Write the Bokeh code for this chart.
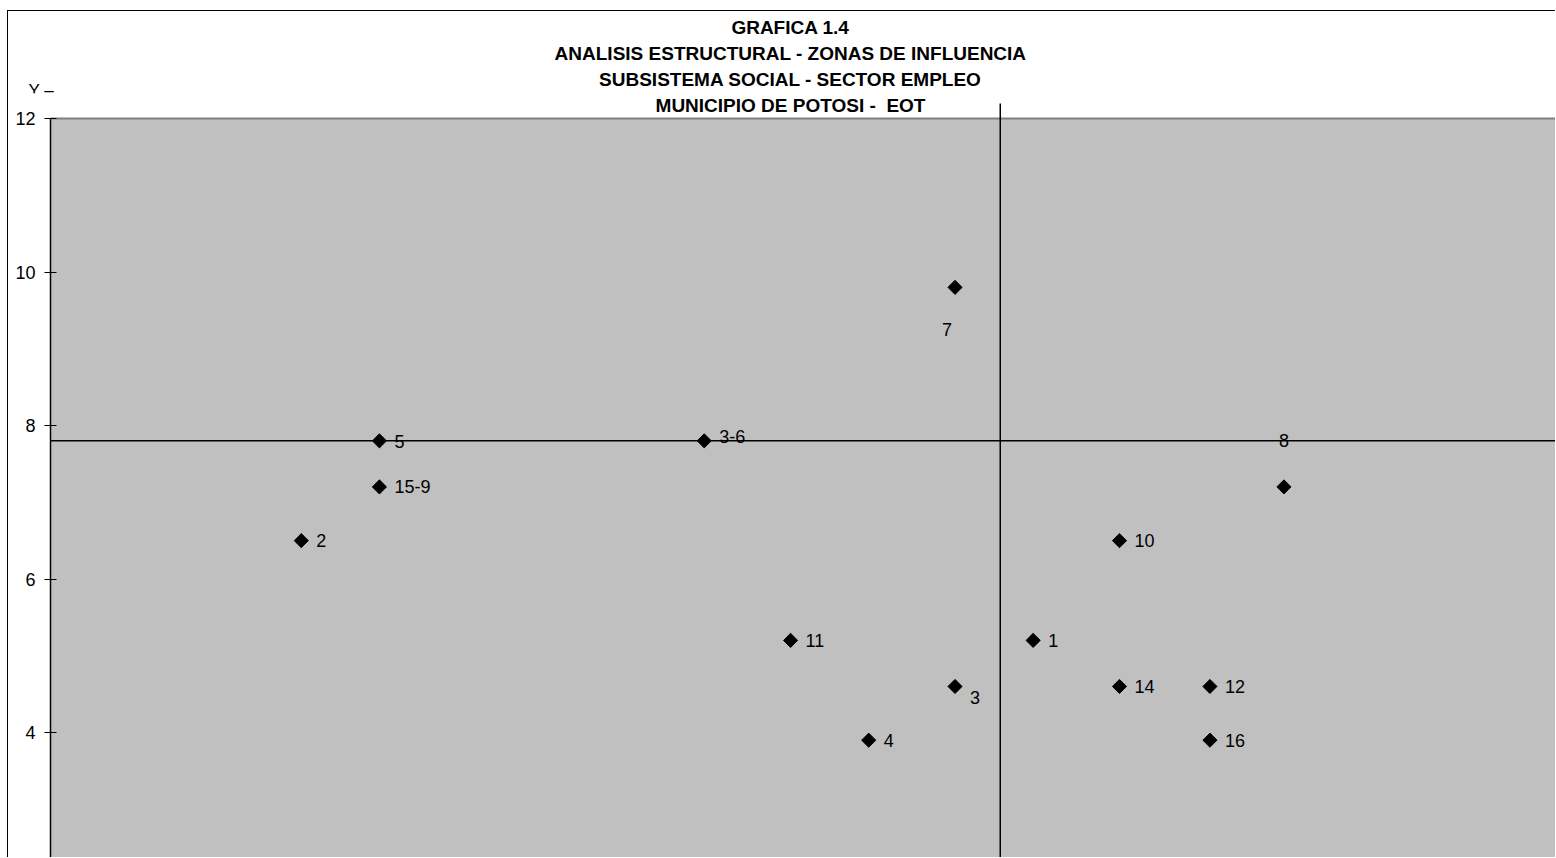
import numpy as np
from bokeh.plotting import figure
from bokeh.models import FixedTicker, ColumnDataSource, Range1d, BoxAnnotation
from bokeh.core.properties import value
from bokeh.embed import file_html
from bokeh.resources import INLINE

# ---------------- data ----------------
title_lines = [
    "GRAFICA 1.4",
    "ANALISIS ESTRUCTURAL - ZONAS DE INFLUENCIA",
    "SUBSISTEMA SOCIAL - SECTOR EMPLEO",
    "MUNICIPIO DE POTOSI -\u00a0 EOT",
]
axis_title = "Y –"
point_labels = ["2", "5", "15-9", "3-6", "11", "4", "3", "7", "1", "10", "14", "12", "16", "8"]
x_values = [3.05, 4.0, 4.0, 7.95, 9.0, 9.95, 11.0, 11.0, 11.95, 13.0, 13.0, 14.1, 14.1, 15.0]
y_values = [6.5, 7.8, 7.2, 7.8, 5.2, 3.9, 4.6, 9.8, 5.2, 6.5, 4.6, 4.6, 3.9, 7.2]
y_ticks = [4, 6, 8, 10, 12]
y_axis_max = 12
x_cross = 11.55
y_cross = 7.8

# ---------------- placement / style ----------------
label_dx = [15, 15, 15, 15, 15, 15, 15, -8, 15, 15, 15, 15, 15, 0]
label_dy = [0, 1, 0, -4, 0, 0, 11, 42, 0, 0, 0, 0, 0, -46]
label_align = ["left"] * len(point_labels)
label_align[point_labels.index("7")] = "center"
label_align[point_labels.index("8")] = "center"

FONT = "Liberation Sans"
PX_X = 82.23   # pixels per x unit
PX_Y = 76.75   # pixels per y unit
X0, X1 = -42 / PX_X, 1506 / PX_X
Y0, Y1 = y_axis_max - 740 / PX_Y, y_axis_max + 107 / PX_Y

def ydata(page_y):
    return y_axis_max + (118 - page_y) / PX_Y

title_x = 740 / PX_X
title_y = [ydata(27.0), ydata(53.0), ydata(79.0), ydata(104.5)]

p = figure(
    width=1548, height=847,
    x_range=Range1d(X0, X1), y_range=Range1d(Y0, Y1),
    x_axis_location=None,
    output_backend="svg", toolbar_location=None,
    min_border_left=0, min_border_top=0, min_border_right=0, min_border_bottom=0,
    background_fill_color="white", border_fill_color="white",
)
p.styles = {"border-left": "1px solid black", "border-top": "1px solid black",
            "margin-top": "10px", "margin-left": "7px"}
p.outline_line_color = None
p.xgrid.visible = False
p.ygrid.visible = False

# grey plot area
p.add_layout(BoxAnnotation(left=0, top=y_axis_max, fill_color="#c0c0c0", fill_alpha=1.0,
                           line_color=None, level="underlay"))

ax = p.yaxis[0]
ax.fixed_location = 0
ax.ticker = FixedTicker(ticks=y_ticks)
ax.major_tick_in = 6
ax.major_tick_out = 6
ax.minor_tick_line_color = None
ax.axis_line_color = None
ax.major_tick_line_color = "black"
ax.major_label_text_font = FONT
ax.major_label_text_font_size = "18px"
ax.major_label_text_color = "black"
ax.major_label_standoff = 9

# axis lines: value axis, top edge, crossing lines
p.segment(x0=[0], y0=[Y0], x1=[0], y1=[y_axis_max], line_color="black", line_width=1.5)
p.segment(x0=[0], y0=[y_axis_max], x1=[X1], y1=[y_axis_max], line_color="#808080", line_width=2)
p.segment(x0=[0], y0=[y_cross], x1=[X1], y1=[y_cross], line_color="black", line_width=1.5)
p.segment(x0=[x_cross], y0=[Y0], x1=[x_cross], y1=[ydata(103)], line_color="black", line_width=1.5)

src = ColumnDataSource(dict(x=x_values, y=y_values, label=point_labels,
                            dx=label_dx, dy=label_dy, align=label_align))
p.scatter(x="x", y="y", source=src, marker="square", angle=np.pi / 4, size=10,
          fill_color="black", line_color="black")
p.text(x="x", y="y", text="label", source=src, x_offset="dx", y_offset="dy",
       text_align={"field": "align"}, text_baseline="middle",
       text_font=value(FONT), text_font_size="18px", text_color="black")

# title
p.text(x=[title_x] * len(title_lines), y=title_y, text=title_lines,
       text_align="center", text_baseline="middle", text_font=value(FONT),
       text_font_style="bold", text_font_size="19px", text_color="black")

# partly hidden axis title at top left
p.text(x=[-22 / PX_X], y=[ydata(89.5)], text=[axis_title], text_align="left",
       text_baseline="alphabetic", text_font=value(FONT), text_font_size="17px",
       text_color="black")
p.add_layout(BoxAnnotation(left=-25 / PX_X, right=8 / PX_X, top=ydata(92.8), bottom=ydata(108),
                           fill_color="white", fill_alpha=1.0, line_color=None, level="overlay"))

open("out.html", "w").write(file_html(p, INLINE))
